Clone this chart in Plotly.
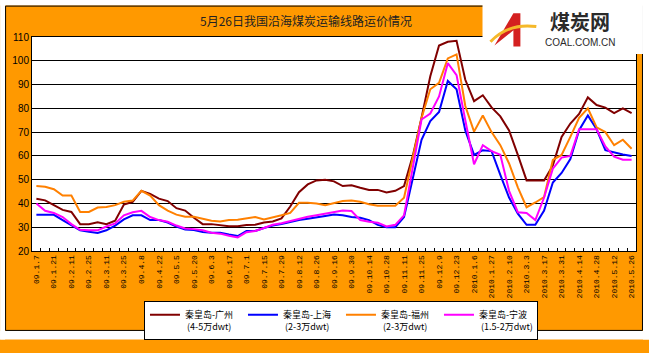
import plotly.graph_objects as go

categories = ["09.1.7","09.1.14","09.1.21","09.2.4","09.2.11","09.2.18","09.2.25","09.3.4","09.3.11","09.3.18",
              "09.3.25","09.4.1","09.4.8","09.4.15","09.4.22","09.4.29","09.5.5","09.5.13","09.5.20","09.5.27",
              "09.6.3","09.6.10","09.6.17","09.6.24","09.7.1","09.7.8","09.7.15","09.7.22","09.7.29","09.8.5",
              "09.8.12","09.8.19","09.8.26","09.9.2","09.9.16","09.9.23","09.9.30","09.10.9","09.10.14","09.10.21",
              "09.10.28","09.11.4","09.11.11","09.11.18","09.11.25","09.12.2","09.12.9","09.12.16","09.12.23","09.12.30",
              "2010.1.6","2010.1.20","2010.1.27","2010.2.3","2010.2.10","2010.2.24","2010.3.3","2010.3.10","2010.3.17","2010.3.24",
              "2010.3.31","2010.4.7","2010.4.14","2010.4.21","2010.4.28","2010.5.5","2010.5.12","2010.5.19","2010.5.26"]

guangzhou = [42,41.3,39.3,37.3,36.4,31.3,31.3,32.1,31.3,32.7,
             39.5,40.7,45.3,44,42,41,38,37,34,31.3,
             31.3,30.7,30.4,30.4,30.9,31,32,32.4,33.7,38.7,
             44.7,48,49.7,50,49.3,47.3,47.6,46.6,45.7,45.7,
             44.6,45.3,47.3,60,76,93.5,106.4,108,108.4,92,
             83,85.5,80.4,76.6,70.7,60.4,49.7,49.7,49.7,56,
             68,73.6,77.6,84.6,81.4,80.3,78,80,78]
shanghai = [35.2,35.2,35.2,33,31,28.7,28.1,27.6,28.7,30.7,
            33.3,35,35,33,33,32,30.3,29,28.8,28,
            27.7,27.7,26.9,26.3,28.4,28.4,29.7,30.7,31.3,32.3,
            33,33.6,34.3,34.7,35.3,35,34.3,34,33,31,
            30,30,34.3,50,66.8,74.6,78.5,91.5,88,70.7,
            60.4,62.4,62,52,42.5,35.7,31,31,37,48.8,
            52.8,58.7,70.8,77,71.2,62.4,61.4,60.6,60]
fuzhou = [47.3,47,46,43.3,43.3,36.4,36.4,38.3,38.5,39.3,
          40.7,41.2,45.3,43.3,39.3,37,35.3,34.4,34.4,33.7,
          32.7,32.4,33,33.1,33.7,34.3,33.3,34,35,36,
          40.3,40.3,40,39.3,40.3,41,41.2,40.7,39.7,39,
          39,39,42.4,58.8,75.9,88,90.7,101,102.7,81,
          70.2,77,70,64.5,56.8,46.8,38.4,40.4,42.7,58.3,
          60.4,68,76,80,72,70,64.5,66.8,63]
ningbo = [40,36.9,36,34.3,31.3,28.9,28.7,28.7,30.3,31.6,
          35,36.3,36.9,34.3,33,32.3,30.7,29.5,29.2,28.7,
          27.7,27.3,26.4,25.7,27.9,28.4,29.7,31,31.7,32.7,
          33.6,34.4,35,35.6,36.3,37,36.8,33,32.3,31.9,
          30.3,31,35,55,75.3,77.8,85,99,94,75,
          56.5,64.5,62,60.5,45.3,36.3,36,33,42.5,54.6,
          59.3,60,71.2,71.2,71.2,64,59.7,58.4,58.4]

series_names = ["秦皇岛-广州<br> (4-5万dwt)", "秦皇岛-上海<br> (2-3万dwt)",
                "秦皇岛-福州<br> (2-3万dwt)", "秦皇岛-宁波<br> (1.5-2万dwt)"]
series_values = [guangzhou, shanghai, fuzhou, ningbo]
series_colors = ["#800000", "#0000FF", "#FF8000", "#FF00FF"]

title_text = "5月26日我国沿海煤炭运输线路运价情况"
y_ticks = [20, 30, 40, 50, 60, 70, 80, 90, 100, 110]

W, H = 649, 353
L, R, T, B = 30, 13, 37, 91
PW, PH = W - L - R, H - T - B

def px(x):
    return (x - L) / PW

def py(y):
    return (H - B - y) / PH

fig = go.Figure()
for name, vals, col in zip(series_names, series_values, series_colors):
    fig.add_trace(go.Scatter(x=categories, y=vals, mode="lines", name=name,
                             line=dict(color=col, width=2)))

ticktext = [c if i % 2 == 0 else "" for i, c in enumerate(categories)]

shapes = [
    dict(type="rect", xref="paper", yref="paper", x0=px(643), x1=px(W + 2), y0=py(H + 2), y1=py(-2),
         fillcolor="white", line=dict(width=0), layer="above"),
    dict(type="rect", xref="paper", yref="paper", x0=px(-2), x1=px(W + 2), y0=py(H + 2), y1=py(346),
         fillcolor="white", line=dict(width=0), layer="above"),
    dict(type="rect", xref="paper", yref="paper", x0=px(-2), x1=px(3), y0=py(H + 2), y1=py(-2),
         fillcolor="white", line=dict(width=0), layer="above"),
    dict(type="rect", xref="paper", yref="paper", x0=px(-2), x1=px(W + 2), y0=py(4), y1=py(-2),
         fillcolor="white", line=dict(width=0), layer="above"),
    dict(type="rect", xref="paper", yref="paper", x0=px(3.5), x1=px(642.5), y0=py(345.5), y1=py(4.5),
         fillcolor="rgba(0,0,0,0)", line=dict(color="black", width=1), layer="above"),
    dict(type="rect", xref="paper", yref="paper", x0=px(482), x1=px(643), y0=py(55), y1=py(-2),
         fillcolor="white", line=dict(width=0), layer="above"),
    dict(type="path", xref="paper", yref="paper", layer="above",
         path="M {},{} L {},{} L {},{} L {},{} L {},{} L {},{} Z".format(
             px(494), py(46), px(513), py(12), px(520), py(12), px(520), py(47), px(513), py(47), px(513), py(30)),
         fillcolor="#D42020", line=dict(width=0)),
    dict(type="path", xref="paper", yref="paper", layer="above",
         path="M {},{} Q {},{} {},{}".format(px(490), py(42), px(508), py(22), px(536), py(26)),
         fillcolor="rgba(0,0,0,0)", line=dict(color="#F5B82A", width=3)),
]

annotations = [
    dict(text=title_text, xref="paper", yref="paper", x=px(305), y=py(20), showarrow=False,
         font=dict(family="Noto Sans CJK SC", size=12, color="#222222"), xanchor="center", yanchor="middle"),
    dict(text="<b>煤炭网</b>", xref="paper", yref="paper", x=px(580), y=py(21), showarrow=False,
         font=dict(family="Noto Sans CJK SC", size=20, color="#2A2A2A"), xanchor="center", yanchor="middle"),
    dict(text="COAL.COM.CN", xref="paper", yref="paper", x=px(580), y=py(43), showarrow=False,
         font=dict(family="Liberation Sans", size=10, color="#2A2A2A"), xanchor="center", yanchor="middle"),
]

fig.update_layout(
    width=W, height=H,
    margin=dict(l=L, r=R, t=T, b=B, pad=0),
    paper_bgcolor="#FF9900",
    plot_bgcolor="white",
    showlegend=True,
    legend=dict(orientation="h", x=px(340), y=py(315), xanchor="center", yanchor="top",
                bgcolor="white", bordercolor="black", borderwidth=1,
                font=dict(family="Noto Sans CJK SC", size=9, color="black"),
                valign="top", tracegroupgap=0, itemwidth=30,
                entrywidth=53, entrywidthmode="pixels"),
    shapes=shapes,
    annotations=annotations,
    xaxis=dict(type="category", range=[-0.5, len(categories) - 0.5],
               tickmode="array", tickvals=categories, ticktext=ticktext,
               tickangle=-90, ticks="inside", ticklen=3, tickcolor="black", tickson="boundaries",
               showline=True, linecolor="black", linewidth=1, mirror=True, showgrid=False,
               tickfont=dict(family="Liberation Mono", size=8, color="black")),
    yaxis=dict(range=[20, 110], tickvals=y_ticks, showgrid=True, gridcolor="black", gridwidth=1,
               showline=True, linecolor="black", linewidth=1, mirror=True, ticks="",
               zeroline=False, tickfont=dict(family="Liberation Sans", size=10, color="black")),
)

fig.write_html("out.html")
